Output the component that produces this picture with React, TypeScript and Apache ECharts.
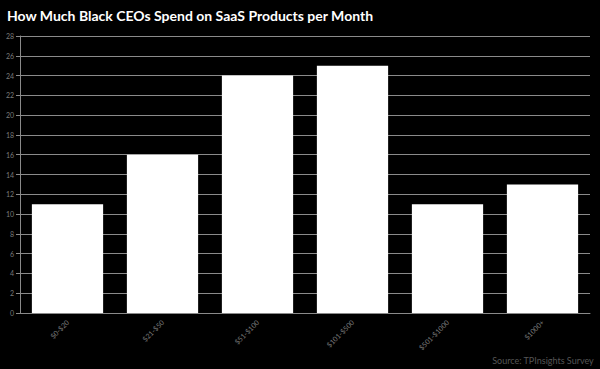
import React, { useEffect, useRef } from "react";
import * as echarts from "echarts";

const categories = ["$0-$20", "$21-$50", "$51-$100", "$101-$500", "$501-$1000", "$1000+"];
const values = [11, 16, 24, 25, 11, 13];
const titleText = "How Much Black CEOs Spend on SaaS Products per Month";
const sourceText = "Source: TPInsights Survey";

export default function App() {
  const ref = useRef<HTMLDivElement>(null);
  useEffect(() => {
    const chart = echarts.init(ref.current!, null, { renderer: "svg" });
    chart.setOption({
      animation: false,
      backgroundColor: "#000000",
      title: {
        text: titleText,
        left: 2,
        top: 3,
        textStyle: { color: "#ffffff", fontSize: 14, fontWeight: "bold", fontFamily: "Lato" },
      },
      graphic: [
        {
          type: "text",
          right: 6,
          bottom: 4,
          style: { text: sourceText, fill: "#555555", fontSize: 9, fontFamily: "Lato" },
        },
      ],
      grid: { left: 20, right: 10, top: 36, bottom: 56, containLabel: false },
      xAxis: {
        type: "category",
        data: categories,
        axisLine: { lineStyle: { color: "#8a8a8a", width: 1 } },
        axisTick: { alignWithLabel: true, length: 4, lineStyle: { color: "#8a8a8a" } },
        axisLabel: { rotate: 45, color: "#7a7a7a", fontSize: 7, fontFamily: "Lato", margin: 8 },
      },
      yAxis: {
        type: "value",
        min: 0,
        max: 28,
        interval: 2,
        axisLine: { show: true, lineStyle: { color: "#8a8a8a", width: 1 } },
        axisTick: { show: true, length: 4, lineStyle: { color: "#8a8a8a" } },
        axisLabel: { color: "#7a7a7a", fontSize: 7, fontFamily: "Lato", margin: 6 },
        splitLine: { show: true, lineStyle: { color: "#8a8a8a", width: 1 } },
      },
      series: [
        {
          type: "bar",
          data: values,
          barCategoryGap: "25%",
          itemStyle: { color: "#ffffff" },
        },
      ],
    });
    return () => chart.dispose();
  }, []);
  return <div ref={ref} style={{ width: 600, height: 369, position: "absolute", left: 0, top: 0 }} />;
}
